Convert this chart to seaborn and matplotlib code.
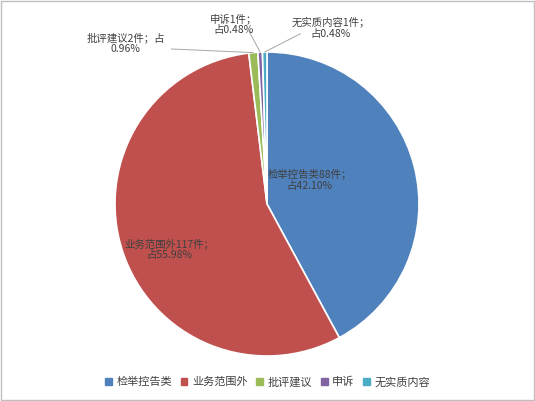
import matplotlib
matplotlib.use("Agg")
import matplotlib.pyplot as plt
import seaborn as sns
import numpy as np

categories = ["检举控告类", "业务范围外", "批评建议", "申诉", "无实质内容"]
counts = [88, 117, 2, 1, 1]
percents = ["42.10%", "55.98%", "0.96%", "0.48%", "0.48%"]
colors = ["#4F81BD", "#C0504D", "#9BBB59", "#8064A2", "#4BACC6"]

sns.set_theme(style="white")
plt.rcParams['font.family'] = ['Noto Sans CJK SC', 'DejaVu Sans']

fig = plt.figure(figsize=(5.35, 4.01), dpi=100)
ax = fig.add_axes([0, 0, 1, 1])
R = 152
cx, cy = 267, 204
ax.axis("off")

wedges, _ = ax.pie(counts, colors=colors, startangle=90, counterclock=False,
                   wedgeprops=dict(edgecolor="white", linewidth=1.2), radius=1)
ax.set_aspect("equal", adjustable="datalim")
ax.set_xlim(-cx / R, (535 - cx) / R)
ax.set_ylim(-(401 - cy) / R, cy / R)

labels = [f"{c}{n}件；\n占{p}" for c, n, p in zip(categories, counts, percents)]
labels[2] = f"{categories[2]}{counts[2]}件；占\n{percents[2]}"
pos = [(0.28, 0.16), (-0.64, -0.30), (-0.93, 1.06), (-0.22, 1.18), (0.42, 1.16)]
for i, (w, lab, (tx, ty)) in enumerate(zip(wedges, labels, pos)):
    if i >= 2:
        ang = np.deg2rad((w.theta1 + w.theta2) / 2)
        ex, ey = np.cos(ang), np.sin(ang)
        ax.plot([ex, tx + (0.3 if i == 2 else (0.1 if i == 3 else -0.2))],
                [ey, ty - 0.04], color="#A6A6A6", lw=0.7)
    ax.text(tx, ty, lab, ha="center", va="center", fontsize=7.5, color="#404040",
            linespacing=1.1)

handles = [plt.Rectangle((0, 0), 1, 1, color=c) for c in colors]
fig.legend(handles, categories, loc="center", bbox_to_anchor=(0.5, 1 - 382 / 401),
           ncol=5, frameon=False, fontsize=8, handlelength=0.6, handleheight=0.6,
           columnspacing=0.8, handletextpad=0.4, labelcolor="#404040")

fig.patches.append(plt.Rectangle((0.002, 0.002), 0.996, 0.996, transform=fig.transFigure,
                                 fill=False, edgecolor="#BFBFBF", lw=1))
fig.savefig("out.png", dpi=100, facecolor="white")
